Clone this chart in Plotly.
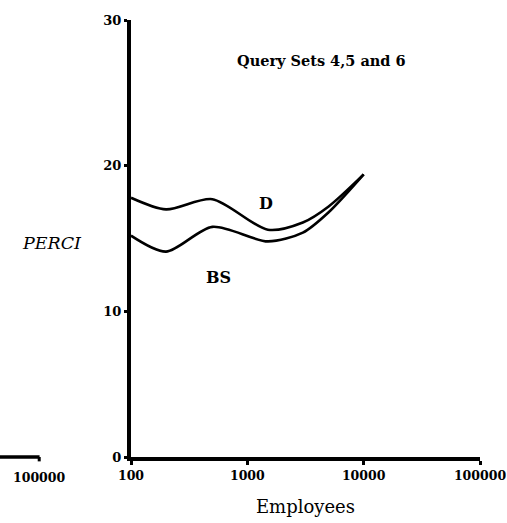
import plotly.graph_objects as go

employees = [100, 200, 500, 1500, 3000, 5000, 10000]
perci_d = [17.8, 17.0, 17.7, 15.6, 16.1, 17.2, 19.4]
perci_bs = [15.2, 14.1, 15.8, 14.8, 15.4, 16.8, 19.4]

x_ticks = [100, 1000, 10000, 100000]
x_tick_labels = ["100", "1000", "10000", "100000"]
y_ticks = [0, 10, 20, 30]

font_b = "DejaVu Serif"

fig = go.Figure()
for ys in (perci_d, perci_bs):
    fig.add_trace(go.Scatter(x=employees, y=ys, mode="lines",
                             line=dict(color="black", width=2.6, shape="spline", smoothing=0.8),
                             hoverinfo="skip", showlegend=False))

fig.update_layout(
    width=507, height=523,
    margin=dict(l=131, r=27, t=20, b=66, autoexpand=False),
    plot_bgcolor="white", paper_bgcolor="white",
    showlegend=False,
    xaxis=dict(type="log", range=[2, 5], tickvals=x_ticks, ticktext=x_tick_labels,
               showgrid=False, zeroline=False, showline=True, linecolor="black", linewidth=3.5,
               ticks="outside", ticklen=4, tickwidth=3, tickcolor="black", automargin=False,
               ticklabeloverflow="allow",
               tickfont=dict(family=font_b, size=12.5, color="black", weight="bold"),
               title=dict(text="Employees", font=dict(family=font_b, size=18, color="black"), standoff=20)),
    yaxis=dict(range=[0, 30], tickvals=y_ticks, showgrid=False, zeroline=False, automargin=False,
               showline=True, linecolor="black", linewidth=4,
               ticks="outside", ticklen=3, tickwidth=3, tickcolor="black",
               tickfont=dict(family=font_b, size=13, color="black", weight="bold")),
)

fig.add_annotation(text="<i>PERCI</i>", xref="paper", yref="paper", x=-0.225, y=0.49,
                   showarrow=False, xanchor="center",
                   font=dict(family=font_b, size=17.5, color="black"))
fig.add_annotation(text="<b>Query Sets 4,5 and 6</b>", xref="paper", yref="paper", x=0.545, y=0.932,
                   showarrow=False, xanchor="center",
                   font=dict(family=font_b, size=14.5, color="black"))
fig.add_annotation(text="<b>D</b>", x=2.0 + 1.16, y=17.4, xref="x", yref="y",
                   showarrow=False, font=dict(family=font_b, size=16, color="black"))
fig.add_annotation(text="<b>BS</b>", x=2.0 + 0.75, y=12.3, xref="x", yref="y",
                   showarrow=False, font=dict(family=font_b, size=16, color="black"))

# remnant of the neighbouring chart at the far left
fig.add_shape(type="line", xref="paper", yref="paper", x0=-0.378, x1=-0.262, y0=0, y1=0,
              line=dict(color="black", width=3.5))
fig.add_shape(type="line", xref="paper", yref="paper", x0=-0.263, x1=-0.263, y0=0, y1=-0.01,
              line=dict(color="black", width=3))
fig.add_annotation(text="<b>100000</b>", xref="paper", yref="paper", x=-0.263, y=-0.025,
                   showarrow=False, xanchor="center", yanchor="top",
                   font=dict(family=font_b, size=12.5, color="black"))

fig.write_html("out.html")
